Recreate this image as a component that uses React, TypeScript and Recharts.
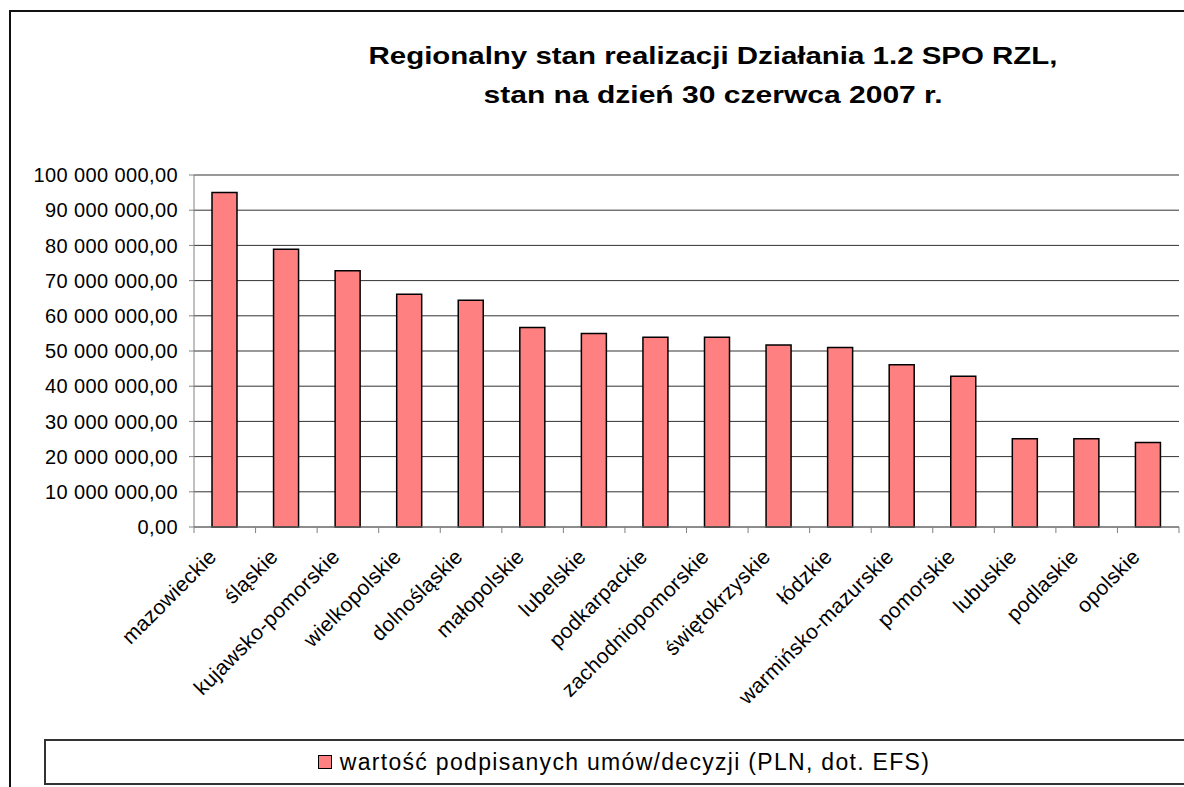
import { Bar, BarChart, CartesianGrid, Legend, XAxis, YAxis } from "recharts";

const FONT = '"Liberation Sans", Arial, sans-serif';
const BAR_FILL = "#FF8080";

const TITLE_LINES = [
  "Regionalny stan realizacji Działania 1.2 SPO RZL,",
  "stan na dzień 30 czerwca 2007 r.",
];
const SERIES_NAME = "wartość podpisanych umów/decyzji (PLN, dot. EFS)";

const REGIONS = [
  "mazowieckie",
  "śląskie",
  "kujawsko-pomorskie",
  "wielkopolskie",
  "dolnośląskie",
  "małopolskie",
  "lubelskie",
  "podkarpackie",
  "zachodniopomorskie",
  "świętokrzyskie",
  "łódzkie",
  "warmińsko-mazurskie",
  "pomorskie",
  "lubuskie",
  "podlaskie",
  "opolskie",
];

// PLN
const SIGNED_VALUES = [
  95000000, 78900000, 72800000, 66100000, 64400000, 56700000, 55000000,
  53900000, 53900000, 51700000, 51000000, 46100000, 42800000, 25100000,
  25100000, 24000000,
];

const Y_TICKS = [
  0, 10000000, 20000000, 30000000, 40000000, 50000000, 60000000, 70000000,
  80000000, 90000000, 100000000,
];

const data = REGIONS.map((region, i) => ({ region, value: SIGNED_VALUES[i] }));

const formatPLN = (v: number) =>
  String(v).replace(/\B(?=(\d{3})+(?!\d))/g, " ") + ",00";

// category label + Excel-style tick marks on the category boundaries
function RegionTick(props: any) {
  const { x, y, payload, index } = props;
  const half = payload?.offset ?? 0;
  const isLast = index === REGIONS.length - 1;
  return (
    <g>
      <line x1={x - half} x2={x - half} y1={y} y2={y + 6} stroke="#808080" />
      {isLast && (
        <line x1={x + half} x2={x + half} y1={y} y2={y + 6} stroke="#808080" />
      )}
      <text
        transform={`translate(${x - 7},${y + 31}) rotate(-45)`}
        textAnchor="end"
        fill="#000"
        fontSize={21}
        fontFamily={FONT}
        letterSpacing={0.3}
      >
        {payload.value}
      </text>
    </g>
  );
}

const renderLegend = () => (
  <div
    style={{
      boxSizing: "border-box",
      width: "100%",
      height: "100%",
      border: "2px solid #333",
      display: "flex",
      alignItems: "center",
      justifyContent: "center",
      fontFamily: FONT,
      fontSize: 23,
      letterSpacing: 1.3,
      color: "#000",
    }}
  >
    <span
      style={{
        display: "inline-block",
        boxSizing: "border-box",
        width: 14,
        height: 14,
        background: BAR_FILL,
        border: "1.5px solid #000",
        marginRight: 8,
      }}
    />
    {SERIES_NAME}
  </div>
);

export default function App() {
  return (
    <div
      style={{
        position: "relative",
        width: 1184,
        height: 787,
        overflow: "hidden",
        background: "#fff",
      }}
    >
      <style>{"body{margin:0}"}</style>
      <div
        style={{
          position: "absolute",
          left: 9,
          top: 10,
          width: 1220,
          height: 820,
          border: "2px solid #111",
        }}
      />
      <svg
        width={1184}
        height={130}
        style={{ position: "absolute", left: 0, top: 0 }}
      >
        {TITLE_LINES.map((line, i) => (
          <text
            key={line}
            x={713}
            y={64 + i * 39}
            textAnchor="middle"
            fontFamily={FONT}
            fontWeight="bold"
            fontSize={24}
            fill="#000"
            textLength={i === 0 ? 689 : 459}
            lengthAdjust="spacingAndGlyphs"
          >
            {line}
          </text>
        ))}
      </svg>
      <div style={{ position: "absolute", left: 0, top: 0 }}>
        <BarChart
          width={1184}
          height={787}
          data={data}
          margin={{ top: 175, right: 5, left: 0, bottom: 60 }}
        >
          <CartesianGrid
            yAxisId="left"
            vertical={false}
            stroke="#333"
          />
          <XAxis
            dataKey="region"
            height={200}
            interval={0}
            tickLine={false}
            tickSize={0}
            tickMargin={0}
            axisLine={{ stroke: "#808080" }}
            tick={<RegionTick />}
          />
          <YAxis
            yAxisId="left"
            width={194}
            domain={[0, 100000000]}
            ticks={Y_TICKS}
            interval={0}
            tickFormatter={formatPLN}
            tickSize={5}
            tickMargin={11}
            tickLine={{ stroke: "#808080" }}
            axisLine={{ stroke: "#808080" }}
            tick={{
              fill: "#000",
              fontSize: 20,
              fontFamily: FONT,
              letterSpacing: 0.4,
            }}
          />
          <YAxis
            yAxisId="right"
            orientation="right"
            width={0}
            domain={[0, 100000000]}
            tick={false}
            tickLine={false}
            axisLine={{ stroke: "#808080" }}
          />
          <Legend
            verticalAlign="middle"
            align="center"
            layout="horizontal"
            wrapperStyle={{ left: 44, top: 739, width: 1160, height: 46 }}
            content={renderLegend}
          />
          <Bar
            yAxisId="left"
            dataKey="value"
            name={SERIES_NAME}
            fill={BAR_FILL}
            stroke="#000"
            strokeWidth={1.5}
            barSize={25}
            isAnimationActive={false}
          />
        </BarChart>
      </div>
    </div>
  );
}
